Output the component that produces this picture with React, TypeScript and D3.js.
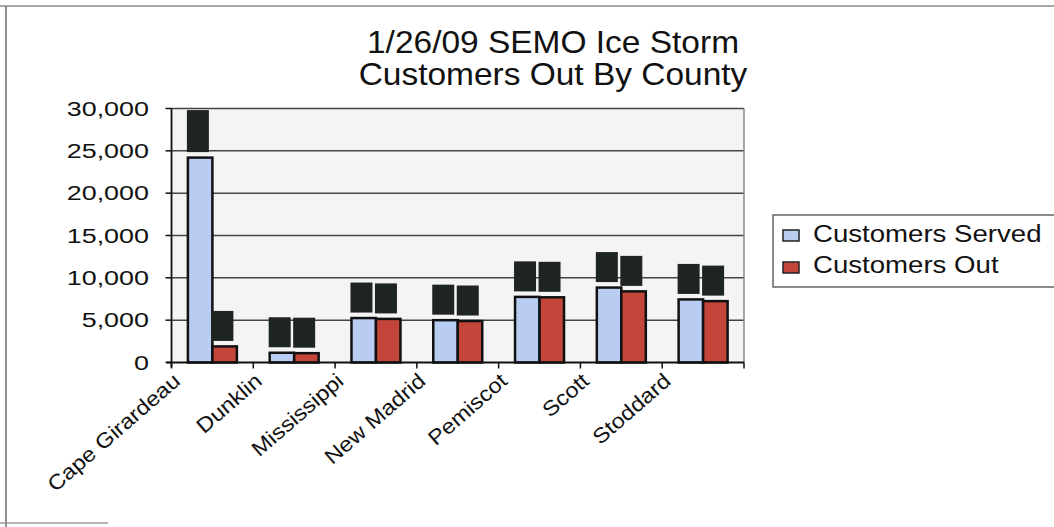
import React from 'react';
import * as d3 from 'd3';

const titleLines = ['1/26/09 SEMO Ice Storm', 'Customers Out By County'];
const categories = ['Cape Girardeau', 'Dunklin', 'Mississippi', 'New Madrid', 'Pemiscot', 'Scott', 'Stoddard'];
const seriesNames = ['Customers Served', 'Customers Out'];
const customersServed = [24200, 1150, 5250, 5000, 7750, 8850, 7450];
const customersOut = [1900, 1100, 5150, 4900, 7700, 8400, 7250];
const yTicks = [0, 5000, 10000, 15000, 20000, 25000, 30000];

const W = 1054;
const H = 527;
const M = { left: 171.5, right: 744, top: 108.5, bottom: 362.5 };
const COLORS = ['#b9cdf2', '#c4453a'];
const FONT = '"Liberation Sans", Arial, sans-serif';

export default function App() {
  const series = [customersServed, customersOut];
  const x0 = d3.scaleBand<string>().domain(categories).range([M.left, M.right]).paddingInner(0).paddingOuter(0);
  const x1 = d3.scaleBand<string>().domain(seriesNames).range([0, x0.bandwidth()]).paddingInner(0).paddingOuter(0.67);
  const y = d3.scaleLinear().domain([0, 30000]).range([M.bottom, M.top]);
  const fmt = d3.format(',');
  const boundaries = categories.map((c) => x0(c) as number).concat([M.right]);

  return (
    <svg width={W} height={H} style={{ position: 'absolute', left: 0, top: 0, background: '#fff' }} fontFamily={FONT}>
      {/* scan frame */}
      <line x1={0} x2={W} y1={6} y2={6} stroke="#8a8a8a" strokeWidth={1.5} />
      <line x1={6} x2={6} y1={6} y2={H} stroke="#6a6a6a" strokeWidth={1.5} />
      <line x1={0} x2={108} y1={523} y2={523} stroke="#9a9a9a" strokeWidth={1.5} />

      {/* title */}
      {titleLines.map((t, i) => (
        <g key={t} transform={`translate(553,${53 + i * 32}) scale(1.08,1)`}>
          <text textAnchor="middle" fontSize={31} fill="#111">{t}</text>
        </g>
      ))}

      {/* plot area */}
      <rect x={M.left} y={M.top} width={M.right - M.left} height={M.bottom - M.top} fill="#f4f4f4" />
      {yTicks.filter((t) => t > 0).map((t) => (
        <line key={t} x1={M.left} x2={M.right} y1={y(t)} y2={y(t)} stroke="#454545" strokeWidth={1.5} />
      ))}
      <line x1={M.right} x2={M.right} y1={M.top} y2={M.bottom} stroke="#8a8a8a" strokeWidth={1.5} />

      {/* bars */}
      {categories.map((c, i) => (
        <g key={c} transform={`translate(${x0(c)},0)`}>
          {series.map((vals, s) => {
            const bx = x1(seriesNames[s]) as number;
            const bw = x1.bandwidth();
            const top = y(vals[i]);
            const boxH = i === 0 && s === 0 ? 42 : 30;
            return (
              <g key={s}>
                <rect x={bx} y={top} width={bw} height={M.bottom - top} fill={COLORS[s]} stroke="#111" strokeWidth={2.5} />
                <rect x={bx - 1} y={top - 5.5 - boxH} width={bw - 2.5} height={boxH} fill="#1e2420" />
              </g>
            );
          })}
        </g>
      ))}

      {/* axes */}
      <line x1={M.left} x2={M.left} y1={M.top} y2={M.bottom + 5} stroke="#111" strokeWidth={1.8} />
      <line x1={M.left - 5} x2={M.right} y1={M.bottom} y2={M.bottom} stroke="#111" strokeWidth={1.8} />
      {yTicks.map((t) => (
        <g key={t}>
          <line x1={M.left - 6} x2={M.left} y1={y(t)} y2={y(t)} stroke="#111" strokeWidth={1.5} />
          <g transform={`translate(149,${y(t) + 7}) scale(1.38,1)`}>
            <text textAnchor="end" fontSize={19.5} fill="#111">{fmt(t)}</text>
          </g>
        </g>
      ))}
      {boundaries.map((bx, i) => (
        <line key={i} x1={bx} x2={bx} y1={M.bottom} y2={M.bottom + 6} stroke="#111" strokeWidth={1.5} />
      ))}
      {categories.map((c) => (
        <g key={c} transform={`translate(${(x0(c) as number) + 10},383) rotate(-41) scale(1.12,1)`}>
          <text textAnchor="end" fontSize={21} fill="#111">{c}</text>
        </g>
      ))}

      {/* legend */}
      <rect x={773} y={215} width={290} height={72} fill="#fff" stroke="#666" strokeWidth={1.5} />
      {seriesNames.map((n, i) => (
        <g key={n}>
          <rect x={783} y={230 + i * 32} width={16} height={11} fill={COLORS[i]} stroke="#222" strokeWidth={1.5} />
          <g transform={`translate(813,${241.7 + i * 31.6}) scale(1.15,1)`}>
            <text fontSize={24} fill="#111">{n}</text>
          </g>
        </g>
      ))}
    </svg>
  );
}
